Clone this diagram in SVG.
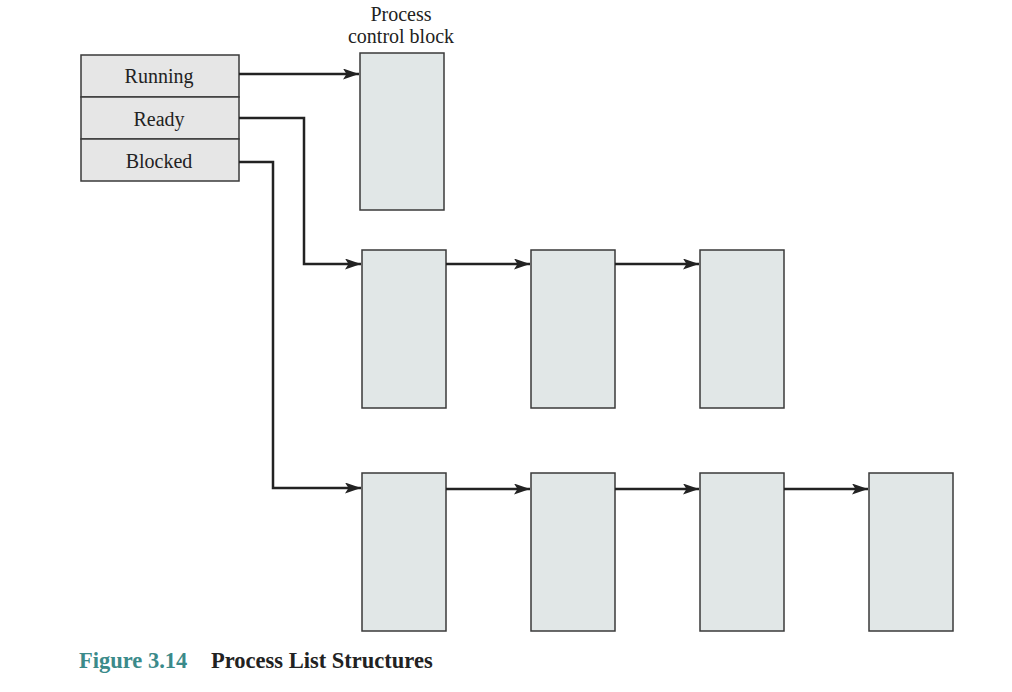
<svg xmlns="http://www.w3.org/2000/svg" width="1012" height="692" viewBox="0 0 1012 692">
<style>
.pcb{fill:#e1e7e7;stroke:#3a3a3a;stroke-width:1.5}
.st{fill:#e6e6e6;stroke:#3a3a3a;stroke-width:1.5}
.lbl{font-family:"Liberation Serif","Times New Roman",serif;font-size:20px;fill:#222;text-anchor:middle}
.con{fill:none;stroke:#222;stroke-width:2.5;marker-end:url(#ah)}
.cap{font-family:"Liberation Serif","Times New Roman",serif;font-size:22.5px;font-weight:bold}
</style>
<defs>
<marker id="ah" viewBox="0 0 16 11" refX="16" refY="5.5" markerWidth="16" markerHeight="11" markerUnits="userSpaceOnUse" orient="auto">
<path d="M0,0 L16,5.5 L0,11 L3.5,5.5 Z" fill="#222"/>
</marker>
</defs>
<rect width="1012" height="692" fill="#fff"/>
<g id="status">
<g id="running"><rect class="st" x="81" y="55" width="158" height="42"/><text class="lbl" x="159" y="83">Running</text></g>
<g id="ready"><rect class="st" x="81" y="97" width="158" height="42"/><text class="lbl" x="159" y="126">Ready</text></g>
<g id="blocked"><rect class="st" x="81" y="139" width="158" height="42"/><text class="lbl" x="159" y="168">Blocked</text></g>
</g>
<g id="pcb-label"><text class="lbl" x="401" y="21">Process</text><text class="lbl" x="401" y="43">control block</text></g>
<g id="pcb-run"><rect class="pcb" x="360" y="53" width="84" height="157"/></g>
<g id="r1"><rect class="pcb" x="362" y="250" width="84" height="158"/></g>
<g id="r2"><rect class="pcb" x="531" y="250" width="84" height="158"/></g>
<g id="r3"><rect class="pcb" x="700" y="250" width="84" height="158"/></g>
<g id="b1"><rect class="pcb" x="362" y="473" width="84" height="158"/></g>
<g id="b2"><rect class="pcb" x="531" y="473" width="84" height="158"/></g>
<g id="b3"><rect class="pcb" x="700" y="473" width="84" height="158"/></g>
<g id="b4"><rect class="pcb" x="869" y="473" width="84" height="158"/></g>
<g id="connectors">
<path class="con" d="M239,74 H359"/>
<path class="con" d="M239,118 H304 V264 H361"/>
<path class="con" d="M239,162 H273 V488 H361"/>
<path class="con" d="M446,264 H530"/>
<path class="con" d="M615,264 H699"/>
<path class="con" d="M446,489 H530"/>
<path class="con" d="M615,489 H699"/>
<path class="con" d="M784,489 H868"/>
</g>
<text class="cap" x="79" y="668" fill="#3b8a8a">Figure 3.14</text>
<text class="cap" x="211" y="668" fill="#222">Process List Structures</text>
</svg>
